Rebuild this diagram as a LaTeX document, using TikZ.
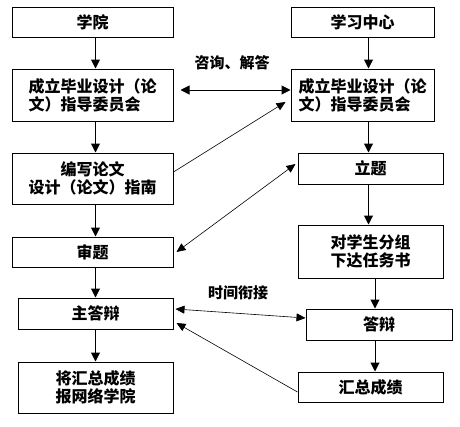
\documentclass[tikz,border=0pt]{standalone}
\usepackage{fontspec}
\setmainfont{Noto Sans CJK SC}
\usetikzlibrary{arrows.meta}
\begin{document}
\begin{tikzpicture}[x=1pt,y=-1pt,
  box/.style={draw,line width=1pt,inner sep=0pt,font=\fontsize{16}{18}\selectfont\bfseries,align=center},
  arr/.style={line width=1pt,-{Triangle[length=9pt,width=9pt]}},
  link/.style={line width=0.6pt},
  lbl/.style={font=\fontsize{15}{18}\selectfont\bfseries}]
\useasboundingbox (0,0) rectangle (460,426);
% left column
\node[box,minimum width=161pt,minimum height=30pt] (xy) at (92.5,22) {学院};
\node[box,minimum width=161pt,minimum height=52pt,align=left] (cl) at (92.5,95) {成立毕业设计（论\\文）指导委员会};
\node[box,minimum width=161pt,minimum height=51pt] (bx) at (92.5,178.5) {编写论文\\设计（论文）指南};
\node[box,minimum width=161pt,minimum height=30pt] (st) at (92.5,252) {审题};
\node[box,minimum width=155pt,minimum height=31pt] (zdb) at (95.5,313.5) {主答辩};
\node[box,minimum width=155pt,minimum height=51pt] (jh) at (95.5,387.5) {将汇总成绩\\报网络学院};
% right column
\node[box,minimum width=143pt,minimum height=30pt] (xx) at (362.5,22) {学习中心};
\node[box,minimum width=143pt,minimum height=52pt,align=left] (cr) at (362.5,95) {成立毕业设计（论\\文）指导委员会};
\node[box,minimum width=145pt,minimum height=31pt] (lt) at (370.5,168.5) {立题};
\node[box,minimum width=145pt,minimum height=53pt] (dx) at (370.5,251.5) {对学生分组\\下达任务书};
\node[box,minimum width=146pt,minimum height=31pt] (db) at (379,324.5) {答辩};
\node[box,minimum width=145pt,minimum height=30pt] (hz) at (370.5,387) {汇总成绩};
% labels
\node[lbl] (l1) at (232,63) {咨询、解答};
\node[lbl] (l2) at (238,293) {时间衔接};
% left vertical arrows
\draw[arr] (xy.south -| zdb.north) -- (cl.north -| zdb.north);
\draw[arr] (cl.south -| zdb.north) -- (bx.north -| zdb.north);
\draw[arr] (bx.south -| zdb.north) -- (st.north -| zdb.north);
\draw[arr] (st.south -| zdb.north) -- (zdb.north);
\draw[arr] (zdb.south) -- (jh.north);
% right vertical arrows
\draw[arr] ([xshift=6pt]xx.south) -- ([xshift=6pt]cr.north);
\draw[arr] ([xshift=6pt]cr.south) -- ([xshift=-2pt]lt.north);
\draw[arr] ([xshift=-2pt]lt.south) -- ([xshift=-2pt]dx.north);
\draw[arr] ([xshift=4.5pt]dx.south) -- ([xshift=-4pt]db.north);
\draw[arr] ([xshift=-4pt]db.south) -- ([xshift=4.5pt]hz.north);
% cross connectors
\draw[line width=1pt,{Triangle[length=9pt,width=9pt]}-{Triangle[length=9pt,width=9pt]}]
  ([xshift=7pt,yshift=5pt]cl.east) -- ([yshift=5pt]cr.west);
\draw[link,-{Triangle[length=9pt,width=8pt]}] ([yshift=6.5pt]bx.east) -- ([xshift=-5pt,yshift=-7pt]cr.west);
\draw[link,{Triangle[length=9pt,width=8pt]}-{Triangle[length=9pt,width=8pt]}]
  ([xshift=3pt]st.east) -- ([xshift=-2pt,yshift=4.5pt]lt.west);
\draw[link,{Triangle[length=9pt,width=8pt]}-{Triangle[length=9pt,width=8pt]}]
  ([xshift=2pt,yshift=4.5pt]zdb.east) -- ([yshift=6.5pt]db.west);
\draw[link,-{Triangle[length=9pt,width=8pt]}] ([yshift=-5pt]hz.west) -- ([xshift=3pt,yshift=-9.5pt]zdb.east);
\end{tikzpicture}
\end{document}
